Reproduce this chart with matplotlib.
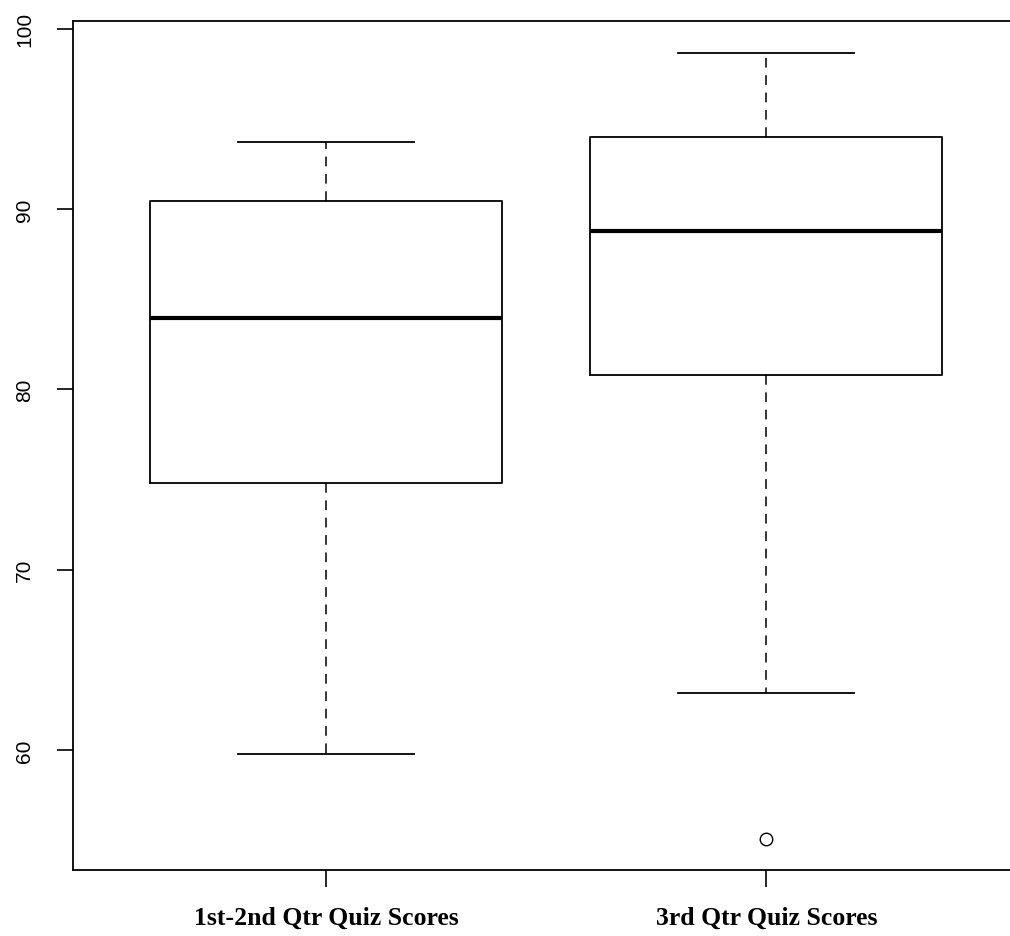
import matplotlib
matplotlib.use('Agg')
import matplotlib.pyplot as plt

# values (R style boxplot)
labels = ['1st-2nd Qtr Quiz Scores', '3rd Qtr Quiz Scores']
whislo = [59.78, 63.18]
q1 = [74.81, 80.78]
med = [83.97, 88.81]
q3 = [90.47, 94.03]
whishi = [93.75, 98.67]
fliers = [[], [55.05]]

stats = []
for i in range(len(labels)):
    stats.append(dict(label=labels[i], whislo=whislo[i], q1=q1[i], med=med[i],
                      q3=q3[i], whishi=whishi[i], fliers=fliers[i]))

plt.rcParams['lines.scale_dashes'] = False

fig = plt.figure(figsize=(10.1, 9.37), dpi=100)
ax = fig.add_axes([72.5/1010, 66/937, 949/1010, 849/937])

ax.bxp(stats, positions=[1, 2], widths=0.8, capwidths=0.4,
       boxprops=dict(color='black', linewidth=1.3),
       medianprops=dict(color='black', linewidth=3.0, solid_capstyle='butt'),
       whiskerprops=dict(color='black', linewidth=1.1, linestyle=(0, (7, 5.5))),
       capprops=dict(color='black', linewidth=1.3),
       flierprops=dict(marker='o', markerfacecolor='none', markeredgecolor='black',
                       markersize=9, markeredgewidth=1.0))

ax.set_xlim(0.4232, 2.58)
ax.set_ylim(53.34, 100.44)

ax.set_yticks([60, 70, 80, 90, 100])
ax.set_yticklabels(['60', '70', '80', '90', '100'], rotation=90, va='center',
                   family='Liberation Sans', fontsize=15)
ax.tick_params(axis='y', length=11.5, width=1.2, pad=16, direction='out')
ax.set_xticks([1, 2])
ax.set_xticklabels(labels, family='Liberation Serif', fontweight='bold', fontsize=18.5)
ax.tick_params(axis='x', length=12, width=1.2, pad=14, direction='out')

for s in ax.spines.values():
    s.set_linewidth(1.3)

fig.savefig('out.png', dpi=100)
